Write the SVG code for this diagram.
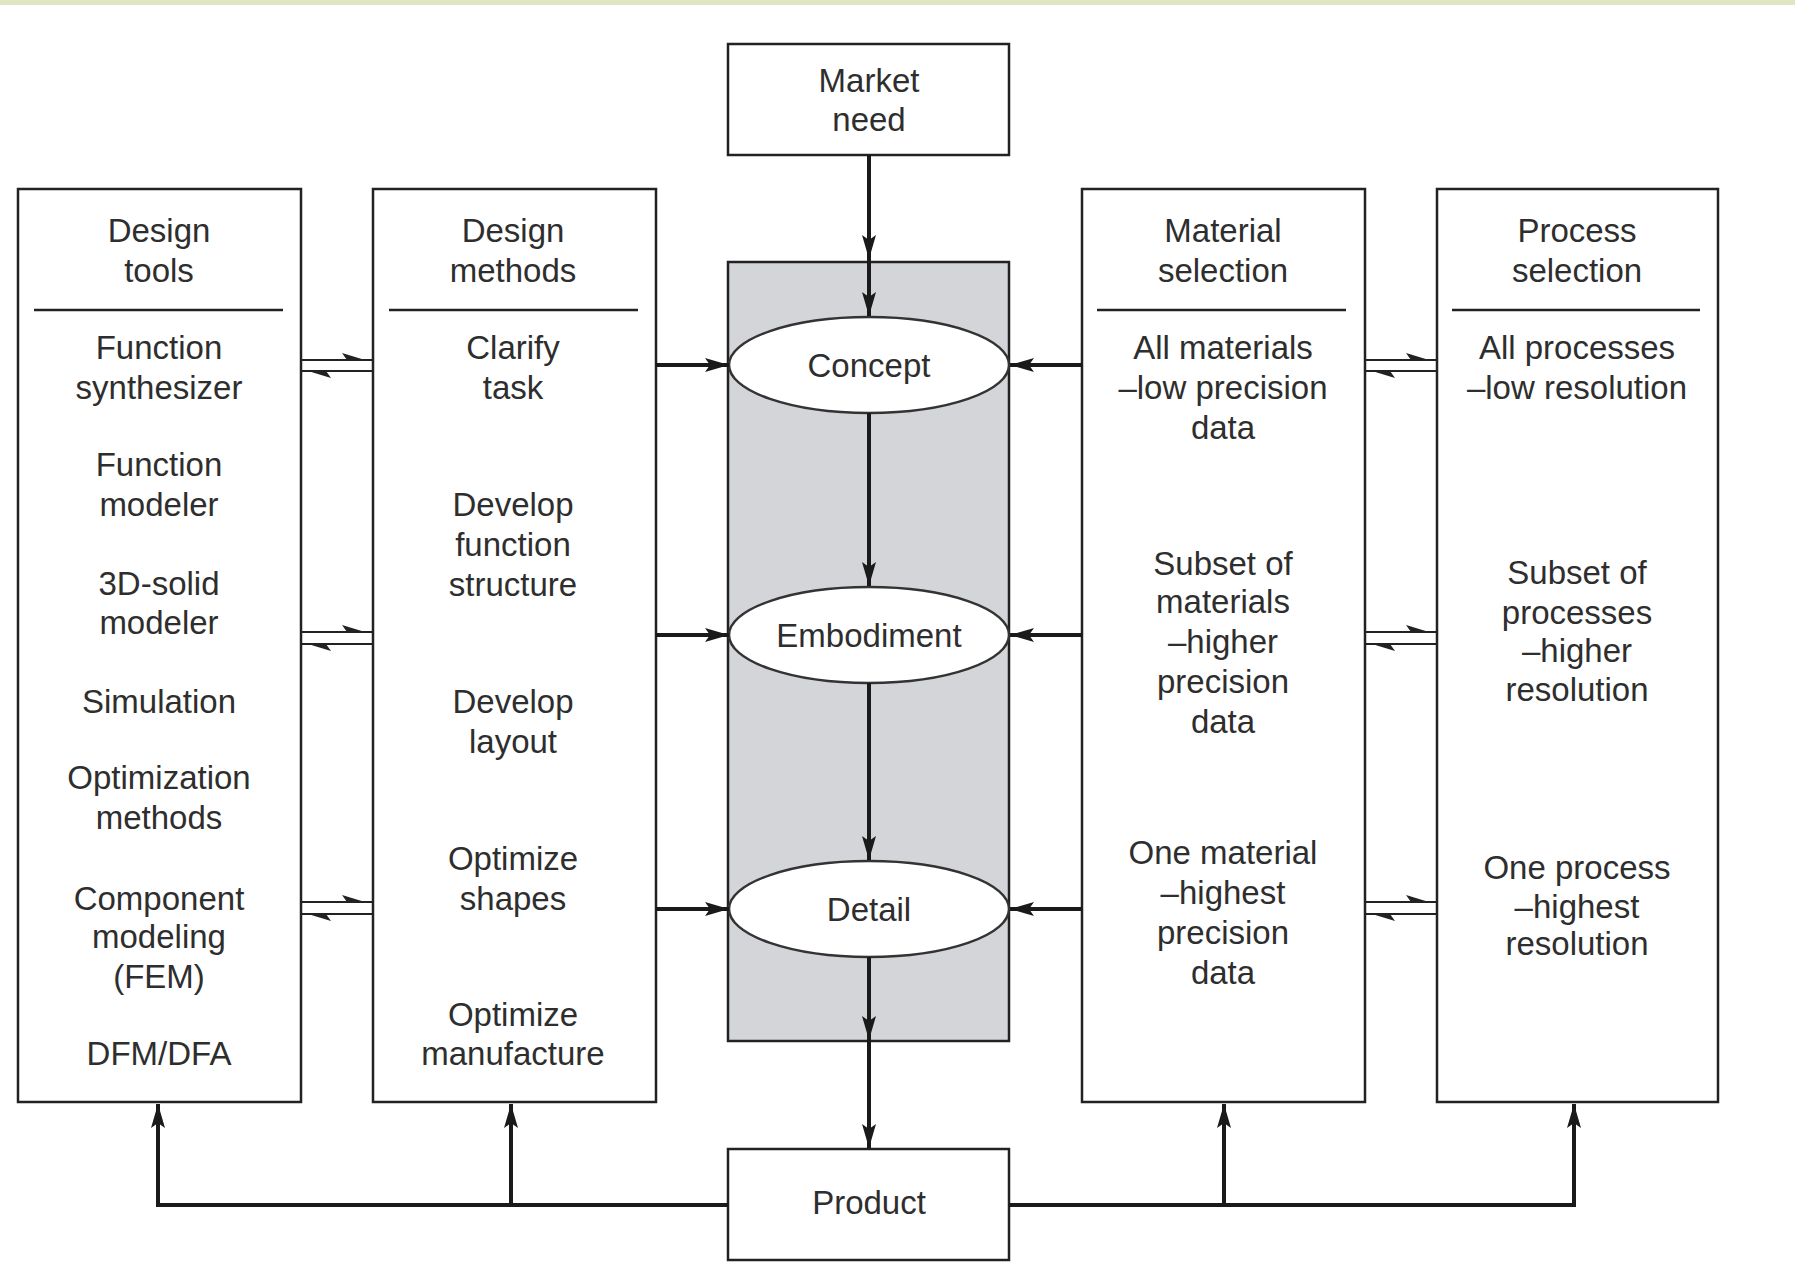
<svg xmlns="http://www.w3.org/2000/svg" width="1795" height="1262" viewBox="0 0 1795 1262">
<defs>
<style>
.box{fill:#fff;stroke:#222;stroke-width:2.5}
.gray{fill:#d3d5d8;stroke:#222;stroke-width:2.5}
.ell{fill:#fff;stroke:#333;stroke-width:2.5}
.sep{stroke:#222;stroke-width:2.5}
.t{font-family:"Liberation Sans",Arial,Helvetica,sans-serif;font-size:33px;fill:#2e2e2e;text-anchor:middle}
.arr{fill:none;stroke:#1a1a1a;stroke-width:4;marker-end:url(#ah)}
.ln{fill:none;stroke:#1a1a1a;stroke-width:4}
.thin{stroke:#222;stroke-width:2.2}
.hp{fill:#222}
</style>
<marker id="ah" markerUnits="userSpaceOnUse" markerWidth="26" markerHeight="16" refX="24" refY="8" orient="auto">
<path d="M0,1 L24,8 L0,15 L5,8 z" fill="#1a1a1a"/>
</marker>
</defs>
<rect width="1795" height="1262" fill="#fff"/>
<rect width="1795" height="5" fill="#dfe6c1"/>

<g id="center-panel"><rect class="gray" x="728" y="262" width="281" height="779"/></g>

<g id="market-need"><rect class="box" x="728" y="44" width="281" height="111"/>
<text class="t" x="869" y="92">Market</text><text class="t" x="869" y="131">need</text></g>

<g id="product"><rect class="box" x="728" y="1149" width="281" height="111"/>
<text class="t" x="869" y="1214">Product</text></g>

<g id="design-tools"><rect class="box" x="18" y="189" width="283" height="913"/>
<line class="sep" x1="34" y1="310" x2="283" y2="310"/>
<text class="t" x="159" y="242">Design</text><text class="t" x="159" y="282">tools</text>
<text class="t" x="159" y="359">Function</text><text class="t" x="159" y="399">synthesizer</text>
<text class="t" x="159" y="476">Function</text><text class="t" x="159" y="516">modeler</text>
<text class="t" x="159" y="595">3D-solid</text><text class="t" x="159" y="634">modeler</text>
<text class="t" x="159" y="713">Simulation</text>
<text class="t" x="159" y="789">Optimization</text><text class="t" x="159" y="829">methods</text>
<text class="t" x="159" y="910">Component</text><text class="t" x="159" y="948">modeling</text><text class="t" x="159" y="988">(FEM)</text>
<text class="t" x="159" y="1065">DFM/DFA</text></g>

<g id="design-methods"><rect class="box" x="373" y="189" width="283" height="913"/>
<line class="sep" x1="389" y1="310" x2="638" y2="310"/>
<text class="t" x="513" y="242">Design</text><text class="t" x="513" y="282">methods</text>
<text class="t" x="513" y="359">Clarify</text><text class="t" x="513" y="399">task</text>
<text class="t" x="513" y="516">Develop</text><text class="t" x="513" y="556">function</text><text class="t" x="513" y="596">structure</text>
<text class="t" x="513" y="713">Develop</text><text class="t" x="513" y="753">layout</text>
<text class="t" x="513" y="870">Optimize</text><text class="t" x="513" y="910">shapes</text>
<text class="t" x="513" y="1026">Optimize</text><text class="t" x="513" y="1065">manufacture</text></g>

<g id="material-selection"><rect class="box" x="1082" y="189" width="283" height="913"/>
<line class="sep" x1="1097" y1="310" x2="1346" y2="310"/>
<text class="t" x="1223" y="242">Material</text><text class="t" x="1223" y="282">selection</text>
<text class="t" x="1223" y="359">All materials</text><text class="t" x="1223" y="399">–low precision</text><text class="t" x="1223" y="439">data</text>
<text class="t" x="1223" y="575">Subset of</text><text class="t" x="1223" y="613">materials</text><text class="t" x="1223" y="653">–higher</text><text class="t" x="1223" y="693">precision</text><text class="t" x="1223" y="733">data</text>
<text class="t" x="1223" y="864">One material</text><text class="t" x="1223" y="904">–highest</text><text class="t" x="1223" y="944">precision</text><text class="t" x="1223" y="984">data</text></g>

<g id="process-selection"><rect class="box" x="1437" y="189" width="281" height="913"/>
<line class="sep" x1="1452" y1="310" x2="1700" y2="310"/>
<text class="t" x="1577" y="242">Process</text><text class="t" x="1577" y="282">selection</text>
<text class="t" x="1577" y="359">All processes</text><text class="t" x="1577" y="399">–low resolution</text>
<text class="t" x="1577" y="584">Subset of</text><text class="t" x="1577" y="624">processes</text><text class="t" x="1577" y="662">–higher</text><text class="t" x="1577" y="701">resolution</text>
<text class="t" x="1577" y="879">One process</text><text class="t" x="1577" y="918">–highest</text><text class="t" x="1577" y="955">resolution</text></g>

<g id="concept"><ellipse class="ell" cx="869" cy="365" rx="140" ry="48"/><text class="t" x="869" y="377">Concept</text></g>
<g id="embodiment"><ellipse class="ell" cx="869" cy="635" rx="140" ry="48"/><text class="t" x="869" y="647">Embodiment</text></g>
<g id="detail"><ellipse class="ell" cx="869" cy="909" rx="140" ry="48"/><text class="t" x="869" y="921">Detail</text></g>

<g id="connectors">
<line class="arr" x1="869" y1="155" x2="869" y2="259"/>
<line class="arr" x1="869" y1="259" x2="869" y2="316"/>
<line class="arr" x1="869" y1="413" x2="869" y2="586"/>
<line class="arr" x1="869" y1="683" x2="869" y2="860"/>
<line class="arr" x1="869" y1="957" x2="869" y2="1040"/>
<line class="arr" x1="869" y1="1040" x2="869" y2="1148"/>

<line class="arr" x1="656" y1="365" x2="729" y2="365"/>
<line class="arr" x1="656" y1="635" x2="729" y2="635"/>
<line class="arr" x1="656" y1="909" x2="729" y2="909"/>
<line class="arr" x1="1082" y1="365" x2="1010" y2="365"/>
<line class="arr" x1="1082" y1="635" x2="1010" y2="635"/>
<line class="arr" x1="1082" y1="909" x2="1010" y2="909"/>

<polyline class="ln" points="728,1205 158,1205 158,1120"/>
<line class="arr" x1="158" y1="1130" x2="158" y2="1104"/>
<line class="arr" x1="511" y1="1205" x2="511" y2="1104"/>
<polyline class="ln" points="1009,1205 1574,1205 1574,1120"/>
<line class="arr" x1="1574" y1="1130" x2="1574" y2="1104"/>
<line class="arr" x1="1224" y1="1205" x2="1224" y2="1104"/>

<g id="harpoons-left">
<line class="thin" x1="301" y1="360" x2="373" y2="360"/><polygon class="hp" points="365,360 342,353 347,360"/>
<line class="thin" x1="301" y1="371" x2="373" y2="371"/><polygon class="hp" points="308,371 331,378 326,371"/>
<line class="thin" x1="301" y1="632" x2="373" y2="632"/><polygon class="hp" points="365,632 342,625 347,632"/>
<line class="thin" x1="301" y1="644" x2="373" y2="644"/><polygon class="hp" points="308,644 331,651 326,644"/>
<line class="thin" x1="301" y1="902" x2="373" y2="902"/><polygon class="hp" points="365,902 342,895 347,902"/>
<line class="thin" x1="301" y1="914" x2="373" y2="914"/><polygon class="hp" points="308,914 331,921 326,914"/>
</g>
<g id="harpoons-right">
<line class="thin" x1="1365" y1="360" x2="1437" y2="360"/><polygon class="hp" points="1429,360 1406,353 1411,360"/>
<line class="thin" x1="1365" y1="371" x2="1437" y2="371"/><polygon class="hp" points="1372,371 1395,378 1390,371"/>
<line class="thin" x1="1365" y1="632" x2="1437" y2="632"/><polygon class="hp" points="1429,632 1406,625 1411,632"/>
<line class="thin" x1="1365" y1="644" x2="1437" y2="644"/><polygon class="hp" points="1372,644 1395,651 1390,644"/>
<line class="thin" x1="1365" y1="902" x2="1437" y2="902"/><polygon class="hp" points="1429,902 1406,895 1411,902"/>
<line class="thin" x1="1365" y1="914" x2="1437" y2="914"/><polygon class="hp" points="1372,914 1395,921 1390,914"/>
</g>
</g>
</svg>
